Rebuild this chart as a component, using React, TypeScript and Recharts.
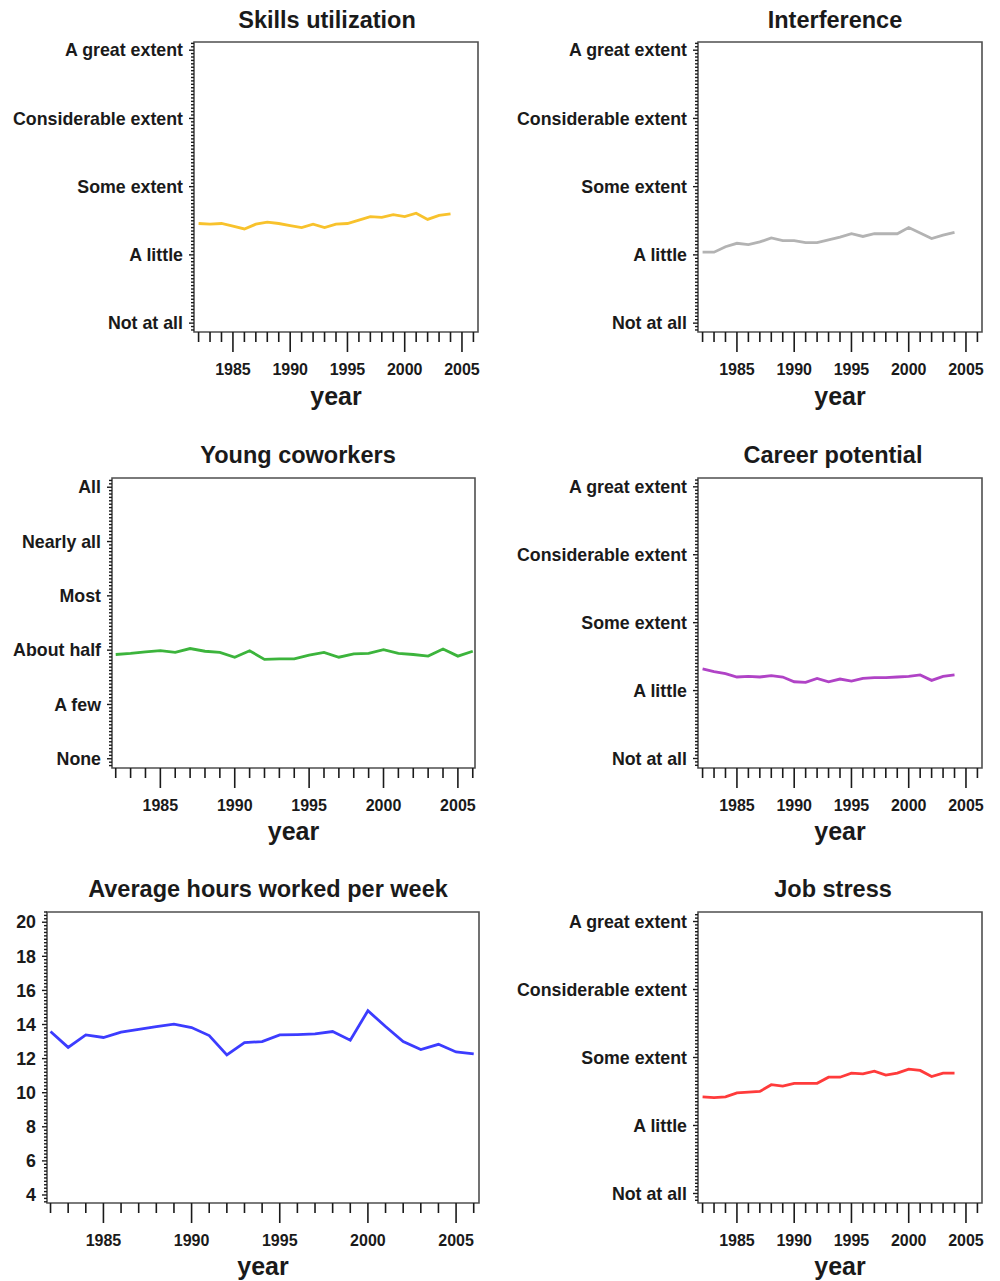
import { LineChart, Line, XAxis, YAxis, ReferenceArea, Label } from 'recharts';

const FONT = '"Liberation Sans", Arial, Helvetica, sans-serif';
const INK = '#1a1a1a';
const FRAME = '#4f4f4f';

// survey years and the axis labels
const years = [
  1982, 1983, 1984, 1985, 1986, 1987, 1988, 1989, 1990, 1991, 1992, 1993,
  1994, 1995, 1996, 1997, 1998, 1999, 2000, 2001, 2002, 2003, 2004, 2005, 2006,
];
const yearLabels = [1985, 1990, 1995, 2000, 2005];

const extentLabels = ['Not at all', 'A little', 'Some extent', 'Considerable extent', 'A great extent'];
const shareLabels = ['None', 'A few', 'About half', 'Most', 'Nearly all', 'All'];
const hourLabels = [4, 6, 8, 10, 12, 14, 16, 18, 20];

// yearly means
const skillsUtilization = [
  2.46, 2.45, 2.46, 2.42, 2.38, 2.45, 2.48, 2.46, 2.43, 2.4, 2.45, 2.4,
  2.45, 2.46, 2.51, 2.56, 2.55, 2.59, 2.56, 2.61, 2.52, 2.58, 2.6,
];
const interference = [
  2.04, 2.04, 2.12, 2.17, 2.15, 2.19, 2.25, 2.21, 2.21, 2.18, 2.18, 2.22,
  2.26, 2.31, 2.27, 2.31, 2.31, 2.31, 2.4, 2.32, 2.24, 2.29, 2.33,
];
const youngCoworkers = [
  1.92, 1.94, 1.97, 1.99, 1.96, 2.03, 1.98, 1.96, 1.87, 1.99, 1.83, 1.84,
  1.84, 1.91, 1.96, 1.87, 1.93, 1.94, 2.01, 1.94, 1.92, 1.89, 2.02, 1.89, 1.98,
];
const careerPotential = [
  2.32, 2.28, 2.25, 2.2, 2.21, 2.2, 2.22, 2.2, 2.13, 2.12, 2.18, 2.13,
  2.17, 2.14, 2.18, 2.19, 2.19, 2.2, 2.21, 2.23, 2.15, 2.21, 2.23,
];
const hoursPerWeek = [
  13.59, 12.66, 13.39, 13.24, 13.55, 13.72, 13.88, 14.02, 13.82, 13.35, 12.22, 12.94,
  13.0, 13.39, 13.41, 13.45, 13.59, 13.08, 14.81, 13.88, 13.0, 12.53, 12.84, 12.39, 12.28,
];
const jobStress = [
  2.42, 2.41, 2.42, 2.48, 2.49, 2.5, 2.6, 2.58, 2.62, 2.62, 2.62, 2.71,
  2.71, 2.77, 2.76, 2.8, 2.74, 2.77, 2.83, 2.81, 2.72, 2.77, 2.77,
];

// evenly spaced minor ticks over a domain
const stepTicks = (lo: number, hi: number, step: number) => {
  const out: number[] = [];
  for (let v = Math.ceil(lo / step) * step; v <= hi + 1e-9; v += step) {
    out.push(Math.round(v * 10000) / 10000);
  }
  return out;
};

const isWhole = (v: number) => Math.abs(v - Math.round(v)) < 1e-6;

const YearTick = (props: any) => {
  const { x, y, payload } = props;
  const v = payload.value;
  const major = yearLabels.includes(v);
  return (
    <g>
      <line x1={x} x2={x} y1={y} y2={y + (major ? 20 : 10)} stroke={INK} strokeWidth={1.6} />
      {major && (
        <text x={x} y={y + 43} textAnchor="middle" fill={INK}
          style={{ fontFamily: FONT, fontSize: 16, fontWeight: 700 }}>
          {v}
        </text>
      )}
    </g>
  );
};

const makeValueTick = (labelFor: (v: number) => string | null) => (props: any) => {
  const { x, y, payload } = props;
  const text = labelFor(payload.value);
  return (
    <g>
      <line x1={x - (text ? 5 : 3)} x2={x} y1={y} y2={y} stroke={INK} strokeWidth={1.4} />
      {text && (
        <text x={x - 11} y={y} dy="0.35em" textAnchor="end" fill={INK}
          style={{ fontFamily: FONT, fontSize: 17.8, fontWeight: 700 }}>
          {text}
        </text>
      )}
    </g>
  );
};

const ordinalLabel = (labels: string[], base: number) => (v: number) =>
  isWhole(v) && v >= base && v <= base + labels.length - 1 ? labels[Math.round(v) - base] : null;

const hourLabel = (v: number) => (hourLabels.includes(Math.round(v * 1000) / 1000) ? String(v) : null);

type PanelProps = {
  title: string;
  titleX: number;
  titleY: number;
  left: number;
  top: number;
  plotLeft: number;
  plotRight: number;
  plotTop: number;
  plotBottom: number;
  xDomain: [number, number];
  yDomain: [number, number];
  yStep: number;
  labelFor: (v: number) => string | null;
  values: number[];
  color: string;
};

const CHART_W = 500;
const CHART_H = 411;

function Panel(p: PanelProps) {
  const data = p.values.map((v, i) => ({ year: years[i], value: v }));
  const xTicks = years.filter((y) => y >= p.xDomain[0] && y <= p.xDomain[1]);
  const yTicks = stepTicks(p.yDomain[0], p.yDomain[1], p.yStep);
  const ValueTick = makeValueTick(p.labelFor);
  return (
    <>
      <div style={{
        position: 'absolute', left: p.titleX - 250, top: p.titleY - 14, width: 500,
        textAlign: 'center', fontFamily: FONT, fontSize: 23.5, fontWeight: 700,
        lineHeight: '28px', color: INK,
      }}>
        {p.title}
      </div>
      <div style={{ position: 'absolute', left: p.left, top: p.top }}>
        <LineChart
          width={CHART_W}
          height={CHART_H}
          data={data}
          margin={{ top: p.plotTop - p.top, right: p.left + CHART_W - p.plotRight, bottom: 0, left: 0 }}
        >
          <XAxis
            dataKey="year"
            type="number"
            domain={p.xDomain}
            ticks={xTicks}
            interval={0}
            allowDataOverflow
            axisLine={false}
            tickLine={false}
            tickSize={0}
            tickMargin={0}
            height={p.top + CHART_H - p.plotBottom}
            tick={<YearTick />}
          >
            <Label value="year" position="insideBottom" offset={6} fill={INK}
              style={{ fontFamily: FONT, fontSize: 25, fontWeight: 700 }} />
          </XAxis>
          <YAxis
            type="number"
            domain={p.yDomain}
            ticks={yTicks}
            interval={0}
            allowDataOverflow
            axisLine={false}
            tickLine={false}
            tickSize={0}
            tickMargin={0}
            width={p.plotLeft - p.left}
            tick={<ValueTick />}
          />
          <ReferenceArea
            x1={p.xDomain[0]}
            x2={p.xDomain[1]}
            y1={p.yDomain[0]}
            y2={p.yDomain[1]}
            fill="none"
            stroke={FRAME}
            strokeWidth={1.6}
            ifOverflow="visible"
          />
          <Line
            dataKey="value"
            stroke={p.color}
            strokeWidth={2.8}
            dot={false}
            activeDot={false}
            isAnimationActive={false}
          />
        </LineChart>
      </div>
    </>
  );
}

export default function App() {
  const extent = ordinalLabel(extentLabels, 1);
  const share = ordinalLabel(shareLabels, 0);
  return (
    <div style={{ position: 'absolute', left: 0, top: 0, width: 1000, height: 1281, background: '#fff', overflow: 'hidden' }}>
      <Panel title="Skills utilization" titleX={327} titleY={20} left={0} top={0}
        plotLeft={194} plotRight={478} plotTop={42} plotBottom={332}
        xDomain={[1981.6, 2006.4]} yDomain={[0.87, 5.12]} yStep={0.05}
        labelFor={extent} values={skillsUtilization} color="#f8c22c" />
      <Panel title="Interference" titleX={835} titleY={20} left={500} top={0}
        plotLeft={698} plotRight={982} plotTop={42} plotBottom={332}
        xDomain={[1981.6, 2006.4]} yDomain={[0.87, 5.12]} yStep={0.05}
        labelFor={extent} values={interference} color="#b3b3b3" />
      <Panel title="Young coworkers" titleX={298} titleY={455} left={0} top={435}
        plotLeft={112} plotRight={475} plotTop={478} plotBottom={768}
        xDomain={[1981.75, 2006.15]} yDomain={[-0.17, 5.17]} yStep={0.0625}
        labelFor={share} values={youngCoworkers} color="#3cb43c" />
      <Panel title="Career potential" titleX={833} titleY={455} left={500} top={435}
        plotLeft={698} plotRight={982} plotTop={478} plotBottom={768}
        xDomain={[1981.6, 2006.4]} yDomain={[0.86, 5.13]} yStep={0.05}
        labelFor={extent} values={careerPotential} color="#b043c6" />
      <Panel title="Average hours worked per week" titleX={268} titleY={889} left={0} top={870}
        plotLeft={47} plotRight={479} plotTop={912} plotBottom={1203}
        xDomain={[1981.8, 2006.3]} yDomain={[3.53, 20.6]} yStep={0.2}
        labelFor={hourLabel} values={hoursPerWeek} color="#3c3cff" />
      <Panel title="Job stress" titleX={833} titleY={889} left={500} top={870}
        plotLeft={698} plotRight={982} plotTop={912} plotBottom={1203}
        xDomain={[1981.6, 2006.4]} yDomain={[0.86, 5.14]} yStep={0.05}
        labelFor={extent} values={jobStress} color="#ff3b3b" />
    </div>
  );
}
